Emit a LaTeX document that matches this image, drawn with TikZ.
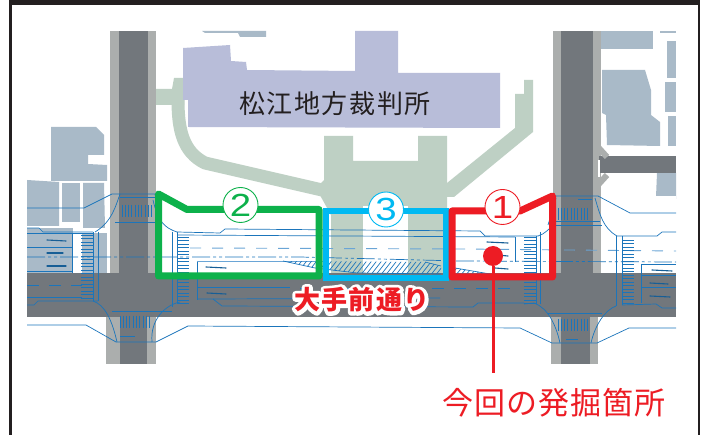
\documentclass[tikz,border=0pt]{standalone}
\usepackage{fontspec}
\newfontfamily\cjk{Noto Sans CJK JP}
\newfontfamily\cjkcourt[LetterSpace=6]{Noto Sans CJK JP}
\newfontfamily\cjkroad[LetterSpace=5]{Noto Sans CJK JP}
\newfontfamily\cjkfind[LetterSpace=3.5]{Noto Sans CJK JP}
\newfontfamily\ringdigit[FakeStretch=1.2]{Liberation Sans}
\setmainfont{Liberation Sans}
\definecolor{roaddark}{HTML}{72777C}
\definecolor{roadlight}{HTML}{ABAEAD}
\definecolor{bldg}{HTML}{A9BAC8}
\definecolor{court}{HTML}{B8BDD9}
\definecolor{garden}{HTML}{BED0C4}
\definecolor{plan}{HTML}{1B75BB}
\definecolor{planlight}{HTML}{6AA5D6}
\definecolor{zonered}{HTML}{ED1C24}
\definecolor{zonegreen}{HTML}{0DB14B}
\definecolor{zoneblue}{HTML}{00B9F2}
\definecolor{framek}{HTML}{231F20}
\newcommand{\haloed}[1]{\leavevmode\rlap{\special{pdf:code q 1 1 1 RG 1 1 1 rg 7 w 1 J 1 j 2 Tr}#1\special{pdf:code 0 Tr Q}}#1}
\tikzset{
  planline/.style={draw=plan,line width=0.7pt},
  softline/.style={draw=planlight,line width=0.9pt},
  zebra/.style={draw=plan,line width=0.9pt},
  arrowmark/.style={draw=plan!80!black,line width=1.1pt,line cap=round},
  zone/.style={line width=7pt,line join=round,line cap=round},
  ringlabel/.style={circle,fill=white,draw=#1,line width=0.9pt,minimum size=35pt,inner sep=0pt,text=#1,font=\ringdigit\fontsize{32}{32}\selectfont},
}
\begin{document}
\begin{tikzpicture}[x=1pt,y=-1pt]
\useasboundingbox (0,0) rectangle (704,435);
\fill[white] (0,0) rectangle (704,435);
% frame
\fill[framek] (9,0) rectangle (700,5.5);
\fill[framek] (9,0) rectangle (11.5,435);
\fill[framek] (698,0) rectangle (700,435);
% buildings
\fill[bldg] (51,127)--(96,127)--(104,135)--(104,155)--(88,155)--(88,164)--(107,165)--(107,181)--(51,181)--cycle;
\fill[bldg] (27,180)--(59,182)--(59,226)--(27,226)--cycle;
\fill[bldg] (62,183)--(80,183)--(80,222)--(62,222)--cycle;
\fill[bldg] (83,183)--(104,183)--(105,228)--(83,228)--cycle;
\fill[bldg] (27,228)--(73,228)--(73,273)--(27,273)--cycle;
\fill[bldg] (82,233)--(107,233)--(107,273)--(82,273)--cycle;
\fill[bldg] (202,31)--(266,31)--(266,37)--(240,37)--(238,33)--(205,33)--cycle;
\fill[bldg] (601,31)--(653,31)--(653,49)--(601,49)--cycle;
\fill[bldg] (660,31)--(676,31)--(676,33)--(660,33)--cycle;
\fill[bldg] (667,41)--(676,41)--(676,78)--(667,78)--cycle;
\fill[bldg] (665,82)--(676,82)--(676,112)--(665,112)--cycle;
\fill[bldg] (668,116)--(676,116)--(676,146)--(668,146)--cycle;
\fill[bldg] (602,70)--(645,70)--(651,90)--(651,115)--(660,122)--(660,146)--(607,145)--(606,115)--(602,113)--cycle;
\fill[bldg] (657,173)--(676,173)--(676,199)--(656,197)--cycle;
% garden
\draw[garden,line width=13pt,line join=round] (178,100) .. controls (178,130) and (183,152) .. (205,163)--(322,190);
\fill[garden] (156,89)--(172,89)--(174,78)--(184,78)--(184,105)--(156,105)--cycle;
\fill[garden] (324,136)--(353,136)--(353,161)--(418,161)--(418,136)--(447,136)--(447,273)--(408,273)--(408,206)--(363,206)--(363,273)--(331,273)--(331,215)--(316,188)--(324,180)--cycle;
\fill[garden] (447,197)--(454,197)--(533,132)--(533,80)--(524,80)--(524,94)--(515,94)--(515,128)--(447,183)--cycle;
% court building
\fill[court] (183,48)--(230,45)--(231,61)--(246,62)--(247,70)--(355,71)--(355,31)--(398,31)--(398,73)--(500,73)--(500,128)--(188,127)--(188,100)--(183,100)--cycle;
% roads
\fill[roadlight] (110,31) rectangle (156,274);
\fill[roaddark] (119,31) rectangle (148,274);
\fill[roadlight] (553,31) rectangle (601,274);
\fill[roaddark] (561,31) rectangle (593,274);
\fill[roadlight] (106,316) rectangle (156,364);
\fill[roaddark] (120,316) rectangle (147,364);
\fill[roadlight] (551,316) rectangle (598,364);
\fill[roaddark] (561,316) rectangle (590,364);
\fill[roaddark] (27,273) rectangle (676,317);
\fill[roaddark] (599,156) rectangle (676,173);
\draw[roadlight,line width=6pt] (597,146)--(607,157);
\draw[roadlight,line width=6pt] (597,186)--(607,175);
\fill[white] (598,160) rectangle (599.5,177);
% white roadway in the plan
\fill[white] (156,232) rectangle (326,273);
\fill[white] (445,232) rectangle (553,273);
\fill[white] (363,206) rectangle (408,273);
\fill[white] (601,196) rectangle (676,232);
\fill[white] (601,232) rectangle (676,273);
% plan lines: outer kerbs
\path[planline] (27,208)--(84,208)--(112,194)--(120,194)--(155,194)--(157,208);
\path[planline] (120,194) .. controls (116,205) and (112,222) .. (95,232);
\path[planline] (115,222)--(158,222);
\path[planline] (120,197)--(155,197);
\path[planline] (153,200) .. controls (158,222) and (165,228) .. (177,232);
\path[planline] (27,228)--(39,228)--(43,232)--(93,232);
\path[planline] (27,233)--(93,233);
\path[planline] (72,233)--(72,273);
\path[planline] (27,247)--(72,247);
\path[planline] (27,271)--(72,271);
\path[planline] (93,232)--(93,301);
\path[planline] (98,232)--(98,301);
\path[planline] (27,297)--(82,297);
\path[planline] (27,305)--(34,305)--(38,301)--(98,301);
\path[planline] (93,301) .. controls (105,305) and (112,320) .. (117,342);
\path[planline] (112,311)--(172,311);
\path[planline] (27,325)--(86,325)--(116,342)--(156,342)--(188,326)--(520,328)--(552,343)--(597,343)--(629,328)--(676,328);
\path[planline] (180,302) .. controls (165,305) and (150,320) .. (152,342);
\path[planline] (120,336)--(135,336);
% left zebras
\foreach \s in {235,238.5,...,300} \path[zebra] (81,\s)--(93,\s);
\foreach \s in {122,125.3,...,153} \path[zebra] (\s,205)--(\s,217);
\foreach \s in {120,123.3,...,152} \path[zebra] (\s,316)--(\s,328);
% centre lanes
\path[planline] (172,232)--(172,307);
\path[planline] (177,232)--(177,304);
\path[planline] (177,232)--(220,233)--(225,229)--(480,231)--(485,236)--(538,236);
\path[planline] (177,235)--(515,237);
\path[planline] (197,261)--(197,300);
\path[softline] (197,261)--(326,261);
\path[planline] (197,287)--(290,287);
\path[planline] (197,299)--(213,299)--(222,306)--(473,307)--(478,303)--(524,303);
\path[planline] (213,299)--(440,298);
\path[softline,dash pattern=on 11pt off 11pt] (190,248)--(462,249)--(676,251);
\path[planline,dash pattern=on 18pt off 3pt on 3pt off 3pt on 3pt off 3pt] (27,257)--(300,257)--(460,261)--(676,262);
\path[planline,dash pattern=on 12pt off 10pt] (300,288)--(520,288);
\path[planline,dash pattern=on 12pt off 10pt] (27,285)--(82,285);
\foreach \s in {237,240.5,...,304} \path[zebra] (177,\s)--(189,\s);
% hatching
\begin{scope}
\clip (283,261)--(425,262)--(441,266)--(441,274)--(357,273)--(315,268)--cycle;
\foreach \s in {280,285,...,450} \path[draw=plan,line width=0.7pt] (\s,276)--(\s+14,258);
\end{scope}
\path[planline] (283,261)--(315,268)--(357,273)--(441,274);
\path[planline] (425,262)--(441,266);
\begin{scope}
\clip (455,268)--(490,274)--(455,274)--cycle;
\foreach \s in {450,455,...,495} \path[draw=plan,line width=0.7pt] (\s,276)--(\s+10,264);
\end{scope}
\path[planline] (455,268)--(490,274);
% middle-right
\path[planline] (515,237)--(515,262);
\foreach \s in {237,240.5,...,304} \path[zebra] (524,\s)--(536,\s);
\path[planline] (536,236)--(536,304);
\path[planline] (540,232)--(540,304);
\path[planline] (538,236) .. controls (545,234) and (550,228) .. (553,225);
\path[planline] (524,304)--(534,303) .. controls (548,308) and (556,325) .. (560,343);
% right intersection
\path[planline] (553,196)--(598,196)--(630,213)--(676,213);
\path[planline] (556,198)--(548,225);
\path[planline] (595,198) .. controls (600,215) and (603,228) .. (617,236);
\path[planline] (553,225)--(602,225);
\path[planline] (551,221)--(600,221);
\path[planline] (617,236)--(657,236)--(662,232)--(676,232);
\path[planline] (616,236)--(616,306);
\path[planline] (622,236)--(622,305);
\path[planline] (622,305)--(656,304)--(662,308)--(676,308);
\path[planline] (616,306) .. controls (605,310) and (595,325) .. (591,343);
\path[planline] (548,313)--(602,313);
\path[planline] (641,264)--(641,303);
\path[planline] (641,264)--(676,264);
\path[planline] (641,275)--(676,275);
\path[planline] (641,287)--(676,287);
\foreach \s in {240,243.5,...,304} \path[zebra] (622,\s)--(634,\s);
\foreach \s in {558,561.3,...,591} \path[zebra] (\s,208)--(\s,220);
\foreach \s in {558,561.3,...,591} \path[zebra] (\s,319)--(\s,331);
\path[planline] (566,339)--(578,339);
\path[planline] (578,199)--(592,199);
% arrows on lanes
\path[arrowmark] (47,240)--(66,241);
\path[arrowmark] (47,253)--(63,253);
\path[arrowmark] (47,266)--(66,266);
\path[arrowmark] (206,267)--(226,268);
\path[arrowmark] (207,293)--(226,294);
\path[arrowmark] (487,242)--(508,243);
\path[arrowmark] (497,255)--(508,256);
\path[arrowmark] (495,268)--(508,269);
\path[arrowmark] (652,270)--(672,271);
\path[arrowmark] (650,283)--(668,284);
\path[arrowmark] (650,296)--(670,297);
% zones
\path[zone,draw=zonegreen] (158.5,194)--(187,209.5)--(319,209.5)--(319,276)--(158.5,276)--cycle;
\path[zone,draw=zoneblue,line width=6.5pt,line cap=butt,line join=miter] (326,211)--(446,211)--(446,278)--(326,278)--cycle;
\path[zone,draw=zonered] (452,211)--(520,211)--(552.5,196)--(552.5,277)--(452,277)--cycle;
\node[ringlabel=zonegreen] (two) at (240.5,205) {2};
\node[ringlabel=zoneblue] (three) at (386,209.5) {3};
\node[ringlabel=zonered] (one) at (502.5,207) {1};
% texts
\node[font=\cjkcourt\fontsize{26}{26}\selectfont,text=framek,inner sep=0pt] (court) at (335,104) {松江地方裁判所};
\node[font=\cjkroad\bfseries\fontsize{26}{26}\selectfont,text=zonered,inner sep=0pt] (road) at (362,300) {\haloed{大手前通り}};
\node[font=\cjkfind\fontsize{31}{31}\selectfont,text=zonered,inner sep=0pt] (find) at (554,403) {今回の発掘箇所};
\node[circle,fill=zonered,minimum size=20pt,inner sep=0pt] (dot) at (493,256) {};
\coordinate (leaderend) at (493,373);
\draw[zonered,line width=3pt] (dot) -- (leaderend);
\end{tikzpicture}
\end{document}
